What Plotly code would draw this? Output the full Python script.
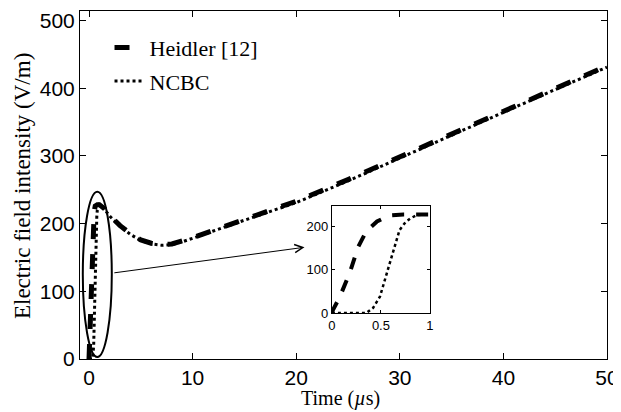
import plotly.graph_objects as go

# main curves (time in microseconds, field in V/m)
t_heidler = [0, 0.1, 0.2, 0.3, 0.4, 0.5, 0.6, 0.7, 0.8, 1.0, 1.5, 2, 3, 4, 5, 6, 7, 8, 9, 10,
             12, 15, 20, 25, 30, 35, 40, 45, 50]
e_heidler = [0, 45, 105, 165, 200, 218, 226, 228, 228, 228, 222, 212, 197, 185, 176, 171, 169,
             170, 174, 179, 190, 206, 233, 265, 299, 333, 367, 400, 433]

t_ncbc = [0, 0.1, 0.2, 0.3, 0.35, 0.45, 0.5, 0.55, 0.6, 0.65, 0.7, 0.75, 0.8, 0.9, 1.0, 1.5, 2,
          3, 4, 5, 6, 7, 8, 9, 10, 12, 15, 20, 25, 30, 35, 40, 45, 50]
e_ncbc = [0, 0, 0, 0, 0, 20, 60, 92, 125, 160, 192, 210, 220, 226, 228, 221, 211, 196, 184, 175,
          170, 168, 169, 173, 178, 189, 205, 231, 263, 297, 331, 365, 398, 431]

# inset (zoom on first microsecond)
t_in_h = [0, 0.01, 0.08, 0.18, 0.27, 0.35, 0.46, 0.59, 0.73, 0.85, 1.0]
e_in_h = [0, 7, 37, 92, 154, 189, 212, 226, 228, 228, 228]
t_in_n = [0, 0.1, 0.2, 0.3, 0.35, 0.42, 0.49, 0.56, 0.63, 0.69, 0.75, 0.8, 0.86, 0.92, 1.0]
e_in_n = [0, 0, 0, 0, 0, 12, 38, 92, 146, 192, 210, 219, 226, 228, 228]

serif = "Liberation Serif, Times New Roman"
sans = "Liberation Sans, Arial"

fig = go.Figure()
fig.add_trace(go.Scatter(x=t_heidler, y=e_heidler, mode="lines", name="Heidler [12]",
                         legendgroup="a",
                         line=dict(color="black", width=5, dash="dash")))
fig.add_trace(go.Scatter(x=t_ncbc, y=e_ncbc, mode="lines", name="NCBC", legendgroup="b",
                         line=dict(color="black", width=3, dash="dot")))
fig.add_trace(go.Scatter(x=t_in_h, y=e_in_h, mode="lines", showlegend=False,
                         xaxis="x2", yaxis="y2",
                         line=dict(color="black", width=4, dash="dash")))
fig.add_trace(go.Scatter(x=t_in_n, y=e_in_n, mode="lines", showlegend=False,
                         xaxis="x2", yaxis="y2",
                         line=dict(color="black", width=2.5, dash="dot")))

# ellipse around the rising front and arrow to the inset
fig.add_shape(type="circle", xref="x", yref="y", x0=-0.6, x1=2.2, y0=3, y1=247,
              line=dict(color="black", width=2))
fig.add_annotation(x=20.8, y=165, ax=2.3, ay=127, xref="x", yref="y", axref="x", ayref="y",
                   text="", showarrow=True, arrowhead=5, arrowsize=1.6, arrowwidth=1,
                   arrowcolor="black")

# axis titles
fig.add_annotation(x=0.495, y=0, xref="paper", yref="paper", showarrow=False,
                   text="Time (<i>µ</i>s)", xanchor="center", yanchor="top", yshift=-26,
                   font=dict(family=serif, size=20, color="black"))
fig.add_annotation(x=0, y=0.497, xref="paper", yref="paper", showarrow=False,
                   text="Electric field intensity (V/m)", textangle=-90,
                   xanchor="center", yanchor="middle", xshift=-58,
                   font=dict(family=serif, size=23, color="black"))

# page body keeps an 8px margin, so the figure is 8px smaller each way
tickfont = dict(family=sans, size=21, color="black")
fig.update_layout(
    width=613, height=404,
    margin=dict(l=72, r=14, t=3, b=53, autoexpand=False),
    plot_bgcolor="white", paper_bgcolor="white",
    showlegend=True,
    legend=dict(x=0.056, y=0.955, xanchor="left", yanchor="top", bgcolor="rgba(0,0,0,0)",
                font=dict(family=serif, size=22, color="black"),
                tracegroupgap=2),
    xaxis=dict(range=[-0.87, 50], tickvals=[0, 10, 20, 30, 40, 50], ticks="inside",
               ticklen=6, tickcolor="black", showline=True, linecolor="black", linewidth=1,
               mirror="ticks", showgrid=False, zeroline=False, tickfont=tickfont,
               automargin=False),
    yaxis=dict(range=[0, 514], tickvals=[0, 100, 200, 300, 400, 500], ticks="inside",
               ticklen=6, tickcolor="black", showline=True, linecolor="black", linewidth=1,
               mirror="ticks", showgrid=False, zeroline=False, tickfont=tickfont,
               automargin=False),
    xaxis2=dict(domain=[0.478, 0.664], anchor="y2", range=[0, 1], tickvals=[0, 0.5, 1],
                ticktext=["0", "0.5", "1"], ticks="inside", ticklen=3, tickcolor="black",
                showline=True, linecolor="black", linewidth=1, mirror="ticks",
                showgrid=False, zeroline=False,
                tickfont=dict(family=sans, size=13, color="black")),
    yaxis2=dict(domain=[0.132, 0.44], anchor="x2", range=[0, 248], tickvals=[0, 100, 200],
                ticks="inside", ticklen=3, tickcolor="black", showline=True,
                linecolor="black", linewidth=1, mirror="ticks", showgrid=False,
                zeroline=False,
                tickfont=dict(family=sans, size=13, color="black")),
)

fig.write_html("out.html")
